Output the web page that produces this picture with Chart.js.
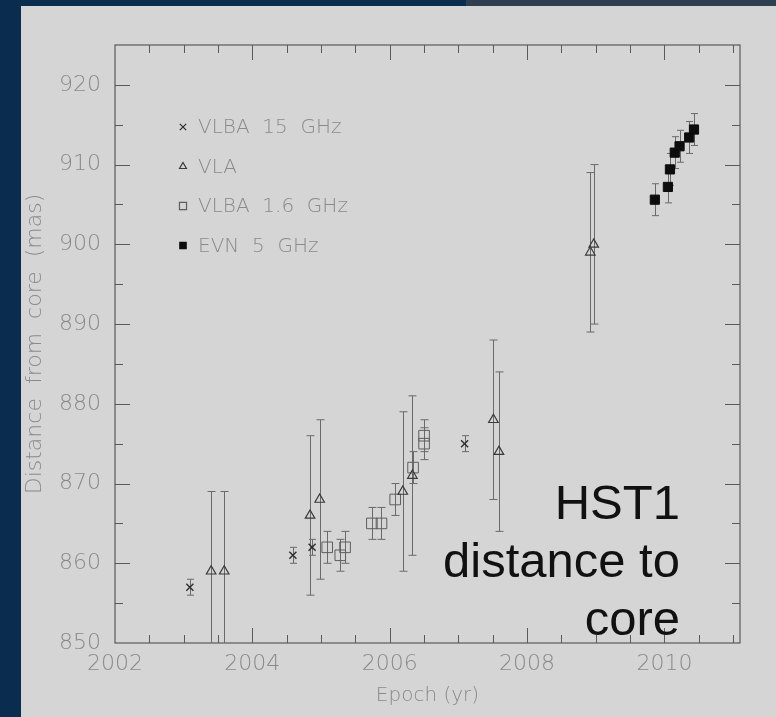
<!DOCTYPE html>
<html>
<head>
<meta charset="utf-8">
<script src="https://cdn.jsdelivr.net/npm/chart.js@4"></script>
<style>
  html, body { margin: 0; padding: 0; }
  body { width: 776px; height: 717px; position: relative; overflow: hidden; background: #0a2c4f; }
  #slate { position: absolute; left: 466px; top: 0; right: 0; height: 6px; background: #2d3f51; }
  #panel { position: absolute; left: 21px; top: 6px; right: 0; bottom: 0; background: #d5d5d5; }
  #chart { position: absolute; left: 0; top: 0; }
  #note { position: absolute; right: 96px; top: 473px; font: 49px 'Liberation Sans', Arial, sans-serif; line-height: 58px; color: #111; text-align: right; }
</style>
</head>
<body>
<div id="slate"></div>
<div id="panel"></div>
<canvas id="chart" width="776" height="717"></canvas>
<div id="note">HST1<br>distance to<br>core</div>
<script>
// values
const vlba15Epoch = [2003.09, 2004.59, 2004.87, 2007.09];
const vlba15Dist = [857, 861, 862, 875];
const vlba15Err = [1, 1, 1, 1];

const vlaEpoch = [2003.40, 2003.59, 2004.84, 2004.98, 2006.19, 2006.33, 2007.51, 2007.59, 2008.92, 2008.97];
const vlaDist = [859, 859, 866, 868, 869, 871, 878, 874, 899, 900];
const vlaErr = [10, 10, 10, 10, 10, 10, 10, 10, 10, 10];

const vlba16Epoch = [2005.09, 2005.28, 2005.35, 2005.74, 2005.88, 2006.08, 2006.34, 2006.50, 2006.50];
const vlba16Dist = [862, 861, 862, 865, 865, 868, 872, 876, 875];
const vlba16Err = [2, 2, 2, 2, 2, 2, 2, 2, 2];

const evnEpoch = [2009.86, 2010.05, 2010.08, 2010.15, 2010.22, 2010.36, 2010.43];
const evnDist = [905.6, 907.2, 909.4, 911.5, 912.3, 913.4, 914.4];
const evnErr = [2, 2, 2, 2, 2, 2, 2];

const xTickLabels = [2002, 2004, 2006, 2008, 2010];
const yTickLabels = [850, 860, 870, 880, 890, 900, 910, 920];

const textGray = '#8a8a8a';
const axisFont = { family: "'DejaVu Sans', sans-serif", size: 22, weight: '200' };

function toPoints(xs, ys, errs) {
    return xs.map((x, i) => ({ x: x, y: ys[i], err: errs[i] }));
}

// vertical error bars with caps
const errorBars = {
    id: 'errorBars',
    beforeDatasetsDraw(chart) {
        const ctx = chart.ctx;
        const a = chart.chartArea;
        const xs = chart.scales.x, ys = chart.scales.y;
        ctx.save();
        ctx.beginPath();
        ctx.rect(a.left, a.top, a.right - a.left, a.bottom - a.top);
        ctx.clip();
        ctx.strokeStyle = '#6a6a6a';
        ctx.lineWidth = 1;
        chart.data.datasets.forEach((ds) => {
            const cap = ds.capWidth / 2;
            ds.data.forEach((p) => {
                const x = Math.round(xs.getPixelForValue(p.x)) + 0.5;
                const y1 = ys.getPixelForValue(p.y + p.err);
                const y2 = ys.getPixelForValue(p.y - p.err);
                ctx.beginPath();
                ctx.moveTo(x, y1);
                ctx.lineTo(x, y2);
                ctx.moveTo(x - cap, y1);
                ctx.lineTo(x + cap, y1);
                ctx.moveTo(x - cap, y2);
                ctx.lineTo(x + cap, y2);
                ctx.stroke();
            });
        });
        ctx.restore();
    }
};

// box frame with inward ticks on all four sides
const frame = {
    id: 'frame',
    beforeDatasetsDraw(chart) {
        const ctx = chart.ctx;
        const a = chart.chartArea;
        const xs = chart.scales.x, ys = chart.scales.y;
        ctx.save();
        ctx.strokeStyle = '#5a5a5a';
        ctx.lineWidth = 1.2;
        ctx.strokeRect(a.left, a.top, a.right - a.left, a.bottom - a.top);
        ctx.lineWidth = 1;
        ctx.beginPath();
        for (let k = 4005; k <= 4022; k++) {
            const v = k / 2;
            const len = (k % 4 === 0) ? 15 : 8;
            const x = Math.round(xs.getPixelForValue(v)) + 0.5;
            ctx.moveTo(x, a.bottom);
            ctx.lineTo(x, a.bottom - len);
            ctx.moveTo(x, a.top);
            ctx.lineTo(x, a.top + len);
        }
        for (let v = 855; v < 925; v += 5) {
            const len = (v % 10 === 0) ? 15 : 8;
            const y = Math.round(ys.getPixelForValue(v)) + 0.5;
            ctx.moveTo(a.left, y);
            ctx.lineTo(a.left + len, y);
            ctx.moveTo(a.right, y);
            ctx.lineTo(a.right - len, y);
        }
        ctx.stroke();
        ctx.restore();
    }
};

// legend inside the plot, upper left
const insideLegend = {
    id: 'insideLegend',
    afterDraw(chart) {
        const ctx = chart.ctx;
        ctx.save();
        ctx.font = "200 20px 'DejaVu Sans', sans-serif";
        ctx.textBaseline = 'middle';
        chart.data.datasets.forEach((ds, i) => {
            const y = 127 + i * 39.5;
            ctx.strokeStyle = ds.borderColor;
            ctx.fillStyle = ds.backgroundColor;
            ctx.lineWidth = 1.2;
            Chart.helpers.drawPoint(ctx, {
                pointStyle: ds.pointStyle,
                radius: ds.legendRadius,
                rotation: 0,
                borderWidth: 1.2
            }, 183, y);
            ctx.fillStyle = textGray;
            ctx.fillText(ds.label, 198, y + 1);
        });
        ctx.restore();
    }
};

new Chart(document.getElementById('chart'), {
    type: 'scatter',
    data: {
        datasets: [{
            label: 'VLBA  15  GHz',
            data: toPoints(vlba15Epoch, vlba15Dist, vlba15Err),
            pointStyle: 'crossRot',
            pointRadius: 5,
            borderColor: '#2e2e2e',
            backgroundColor: 'rgba(0,0,0,0)',
            borderWidth: 1.4,
            capWidth: 7,
            legendRadius: 4.5
        }, {
            label: 'VLA',
            data: toPoints(vlaEpoch, vlaDist, vlaErr),
            pointStyle: 'triangle',
            pointRadius: 5.5,
            borderColor: '#3a3a3a',
            backgroundColor: 'rgba(0,0,0,0)',
            borderWidth: 1.2,
            capWidth: 8,
            legendRadius: 4
        }, {
            label: 'VLBA  1.6  GHz',
            data: toPoints(vlba16Epoch, vlba16Dist, vlba16Err),
            pointStyle: 'rect',
            pointRadius: 7.5,
            borderColor: '#5e5e5e',
            backgroundColor: 'rgba(0,0,0,0)',
            borderWidth: 1,
            capWidth: 8,
            legendRadius: 5
        }, {
            label: 'EVN  5  GHz',
            data: toPoints(evnEpoch, evnDist, evnErr),
            pointStyle: 'rect',
            pointRadius: 6.5,
            borderColor: '#0d0d0d',
            backgroundColor: '#0d0d0d',
            borderWidth: 1,
            capWidth: 7,
            legendRadius: 4.5
        }]
    },
    options: {
        responsive: false,
        animation: false,
        events: [],
        layout: { padding: { left: 0, top: 45, right: 36, bottom: 0 } },
        plugins: {
            legend: { display: false },
            tooltip: { enabled: false }
        },
        scales: {
            x: {
                type: 'linear',
                min: 2002,
                max: 2011.1,
                afterBuildTicks: (s) => { s.ticks = xTickLabels.map(v => ({ value: v })); },
                afterFit: (s) => { s.height = 74; },
                grid: { display: false, drawTicks: false },
                border: { display: false },
                ticks: {
                    color: textGray,
                    font: axisFont,
                    padding: 8,
                    maxRotation: 0,
                    autoSkip: false,
                    callback: (v) => String(v)
                },
                title: {
                    display: true,
                    text: 'Epoch (yr)',
                    color: textGray,
                    font: { family: "'DejaVu Sans', sans-serif", size: 20, weight: '200' },
                    padding: { top: 0, bottom: 9 }
                }
            },
            y: {
                type: 'linear',
                min: 850,
                max: 925,
                afterBuildTicks: (s) => { s.ticks = yTickLabels.map(v => ({ value: v })); },
                afterFit: (s) => { s.width = 115; },
                grid: { display: false, drawTicks: false },
                border: { display: false },
                ticks: {
                    color: textGray,
                    font: axisFont,
                    padding: 14,
                    autoSkip: false,
                    callback: (v) => String(v)
                },
                title: {
                    display: true,
                    text: 'Distance  from  core  (mas)',
                    color: textGray,
                    font: { family: "'DejaVu Sans', sans-serif", size: 22, weight: '200' },
                    padding: { top: 22, bottom: 0 }
                }
            }
        }
    },
    plugins: [frame, errorBars, insideLegend]
});
</script>
</body>
</html>
